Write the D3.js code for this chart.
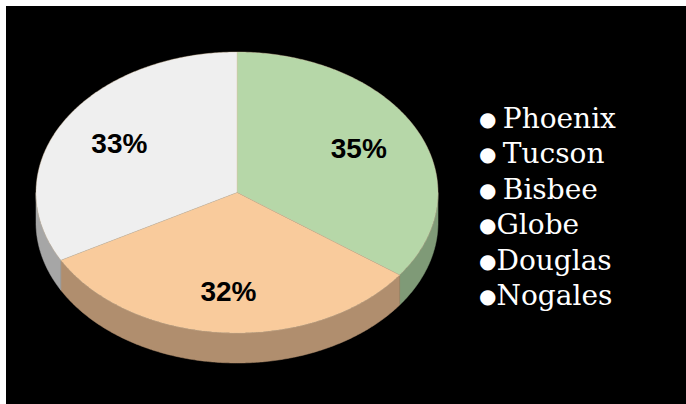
<!doctype html>
<html lang="en">
<head>
<meta charset="utf-8">
<title>Pie chart</title>
<script src="https://cdn.jsdelivr.net/npm/d3@7"></script>
<style>
  body { margin: 0; background: #fff; }
  svg { display: block; }
</style>
</head>
<body>
<script>
    // chart data
    var cities = ["Phoenix", "Tucson", "Bisbee", "Globe", "Douglas", "Nogales"];
    var bullets = ["\u25CF ", "\u25CF ", "\u25CF ", "\u25CF", "\u25CF", "\u25CF"];
    var slices = ["Green", "Orange", "Grey"];
    var values = [35, 32, 33];
    var topColors = ["#b6d7a8", "#f9cb9c", "#efefef"];
    var sideColors = ["#7f9a77", "#b08e6e", "#a6a6a6"];

    var W = 686, H = 404;
    var cx = 237, cy = 192.5, rx = 201, ry = 140.5, depth = 30;

    var svg = d3.select("body").append("svg")
            .attr("width", W).attr("height", H);

    svg.append("rect").attr("x", 6).attr("y", 6)
        .attr("width", W - 6).attr("height", H - 6).attr("fill", "#000");

    var pie = d3.pie().sort(null).startAngle(0).endAngle(2 * Math.PI);
    var arcs = pie(values);

    // angle measured clockwise from 12 o'clock, squashed onto an ellipse
    function px(a, f) { return cx + rx * f * Math.sin(a); }
    function py(a, f) { return cy - ry * f * Math.cos(a); }

    function edge(a0, a1, dy) {
        var pts = [], n = Math.max(2, Math.ceil((a1 - a0) / 0.01));
        for (var i = 0; i <= n; i++) {
            var a = a0 + (a1 - a0) * i / n;
            pts.push([px(a, 1), py(a, 1) + dy]);
        }
        return pts;
    }

    var line = d3.line();

    // side walls (only the front half faces us)
    var sides = svg.append("g");
    arcs.forEach(function(d, i){
        var a0 = Math.max(d.startAngle, Math.PI / 2);
        var a1 = Math.min(d.endAngle, Math.PI * 3 / 2);
        if (a1 <= a0) return;
        var pts = edge(a0, a1, 0).concat(edge(a0, a1, depth).reverse());
        sides.append("path")
            .attr("d", line(pts) + "Z")
            .attr("fill", sideColors[i])
            .attr("stroke", sideColors[i]).attr("stroke-width", 0.5);
    });

    // top faces
    var tops = svg.append("g");
    arcs.forEach(function(d, i){
        var pts = [[cx, cy]].concat(edge(d.startAngle, d.endAngle, 0));
        tops.append("path")
            .attr("d", line(pts) + "Z")
            .attr("fill", topColors[i])
            .attr("stroke", "#d9c2a5").attr("stroke-width", 0.4);
    });

    // percentage labels
    var total = d3.sum(values);
    var pct = d3.format(".0%");
    svg.append("g").selectAll("text")
        .data(arcs).enter().append("text")
        .attr("x", function(d){ return px((d.startAngle + d.endAngle) / 2, 0.68); })
        .attr("y", function(d){ return py((d.startAngle + d.endAngle) / 2, 0.7); })
        .attr("dy", "0.36em")
        .attr("text-anchor", "middle")
        .attr("font-family", "'Liberation Sans', Arial, sans-serif")
        .attr("font-weight", "bold")
        .attr("font-size", 28)
        .attr("fill", "#000")
        .text(function(d){ return pct(d.value / total); });

    // legend, plain bulleted text
    var legend = svg.append("g").selectAll("text")
        .data(cities).enter().append("text")
        .attr("x", 479)
        .attr("y", function(d, i){ return 128 + i * 35.4; })
        .attr("font-family", "'DejaVu Serif', serif")
        .attr("font-size", 28)
        .attr("fill", "#fff");
    legend.append("tspan")
        .attr("font-size", 20)
        .attr("dy", -2)
        .text(function(d, i){ return bullets[i]; });
    legend.append("tspan")
        .attr("dy", 2)
        .text(function(d){ return d; });
</script>
</body>
</html>
